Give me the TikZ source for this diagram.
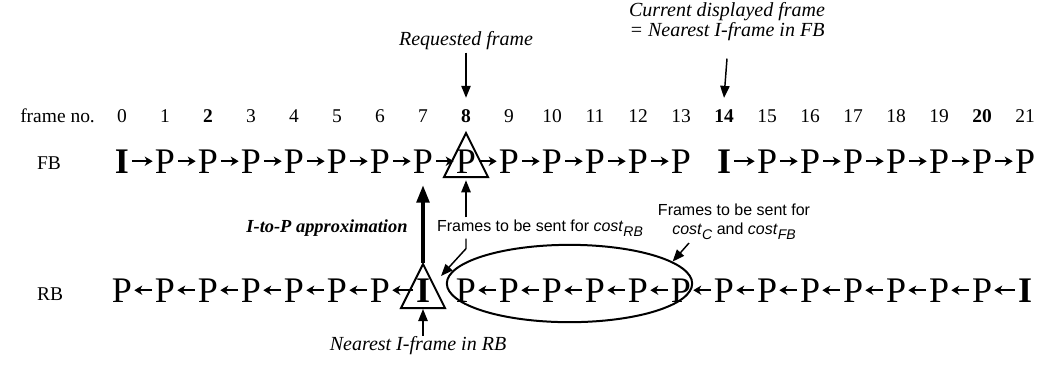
\documentclass[tikz,border=0pt]{standalone}
\usepackage{fontspec}
\setmainfont{Liberation Serif}
\setsansfont{Liberation Sans}
\usetikzlibrary{arrows.meta,calc,shapes.geometric}
\newcommand{\sbsc}[1]{\raisebox{-0.32em}{\fontsize{10.5}{10.5}\selectfont\itshape #1}}
\begin{document}
\begin{tikzpicture}[x=0.75pt,y=-0.75pt,
  num/.style={font=\fontsize{14.6}{16}\selectfont, inner sep=0pt, anchor=base},
  bnum/.style={num, font=\fontsize{14.6}{16}\selectfont\bfseries},
  frm/.style={font=\fontsize{27}{28}\selectfont, inner sep=0pt, anchor=base},
  bfrm/.style={frm, font=\fontsize{27}{28}\selectfont\bfseries},
  lbl/.style={font=\fontsize{15}{15}\selectfont\itshape, inner sep=0pt, align=center},
  sans/.style={font=\sffamily\fontsize{12}{14.5}\selectfont, inner sep=0pt, align=center},
  link/.style={line width=1.6pt, -{Stealth[length=6pt,width=7pt,inset=1.8pt]}, shorten <=2pt, shorten >=1.5pt},
  thin arrow/.style={line width=1.1pt, -{Triangle[length=9pt,width=7pt]}},
  thick arrow/.style={line width=2.6pt, -{Triangle[length=13pt,width=9.5pt]}},
  mark shape/.style={line width=1.5pt}
]
\useasboundingbox (0,0) rectangle (1045,380);

% frame numbers
\node[num, anchor=base west] (fn) at (20,122) {frame no.};
\foreach \i in {0,1,3,4,5,6,7,9,10,11,12,13,15,16,17,18,19,21}
  \node[num] (n\i) at ({122+43*\i},122) {\i};
\foreach \i in {2,8,14,20}
  \node[bnum] (n\i) at ({122+43*\i},122) {\i};

% row labels
\node[num] (fblbl) at (49,169) {FB};
\node[num] (rblbl) at (50,300) {RB};

% FB row
\foreach \i in {1,2,3,4,5,6,7,8,9,10,11,12,13,15,16,17,18,19,20,21}
  \node[frm] (fb\i) at ({122+43*\i},173) {P};
\foreach \i in {0,14}
  \node[bfrm] (fb\i) at ({122+43*\i},173) {I};
\foreach \i in {0,...,12}{
  \pgfmathtruncatemacro{\j}{\i+1}
  \draw[link] (fb\i.east) -- (fb\j.west);
}
\foreach \i in {14,...,20}{
  \pgfmathtruncatemacro{\j}{\i+1}
  \draw[link] (fb\i.east) -- (fb\j.west);
}

% RB row
\foreach \i in {0,1,2,3,4,5,6,8,9,10,11,12,13,14,15,16,17,18,19,20}
  \node[frm] (rb\i) at ({122+43*\i},302) {P};
\foreach \i in {7,21}
  \node[bfrm] (rb\i) at ({122+43*\i},302) {I};
\foreach \i in {0,...,6}{
  \pgfmathtruncatemacro{\j}{\i+1}
  \draw[link] (rb\j.west) -- (rb\i.east);
}
\foreach \i in {8,...,20}{
  \pgfmathtruncatemacro{\j}{\i+1}
  \draw[link] (rb\j.west) -- (rb\i.east);
}

% triangles
\draw[mark shape] (466,133) -- (444,177) -- (488,177) -- cycle;
\draw[mark shape] (423,264) -- (401,308) -- (445,308) -- cycle;
\coordinate (rbapex) at (423,263);
\coordinate (rbbase) at (423,309);

% ellipse group
\node[draw, ellipse, mark shape, minimum width=184pt, minimum height=58pt, inner sep=0pt] (grp) at (569.5,283.5) {};

% top labels
\node[lbl, anchor=base] (req) at (466,45) {Requested frame};
\node[lbl, anchor=base] (cur1) at (727,16) {Current displayed frame};
\node[lbl, anchor=base] (cur2) at (727,36) {= Nearest I-frame in FB};
\draw[thin arrow] (req.south) ++(0,3) -- ($(n8.north)+(0,-11)$);
\draw[thin arrow] (cur2.south) ++(0,18) -- ($(n14.north)+(0,-11)$);

% I-to-P approximation
\node[font=\fontsize{13.8}{15}\selectfont\bfseries\itshape, inner sep=0pt] (itop) at (327,228) {I-to-P approximation};
\draw[thick arrow] (rbapex) -- ($(fb7.south)+(0,12)$);

% cost_RB
\node[sans] (crb) at (540,228) {Frames to be sent for \textit{cost}\sbsc{RB}};
\coordinate (crbtip) at (441,276);
\draw[thin arrow] ($(fb8 |- crb.north)+(0,-2)$) -- ($(fb8.south)+(0,7)$);
\draw[thin arrow] ($(fb8 |- crb.south)+(0,2)$) -- ++(0,10) -- (crbtip);

% cost_C and cost_FB
\node[sans] (cc) at (734,222) {Frames to be sent for\\\textit{cost}\sbsc{C} and \textit{cost}\sbsc{FB}};
\coordinate (ccstart) at (689,243);
\draw[thin arrow] (ccstart) -- (grp.12);

% nearest I-frame in RB
\node[lbl, anchor=base] (near) at (418,350) {Nearest I-frame in RB};
\draw[thin arrow] (rb7 |- near.north) -- (rbbase);
\end{tikzpicture}
\end{document}
